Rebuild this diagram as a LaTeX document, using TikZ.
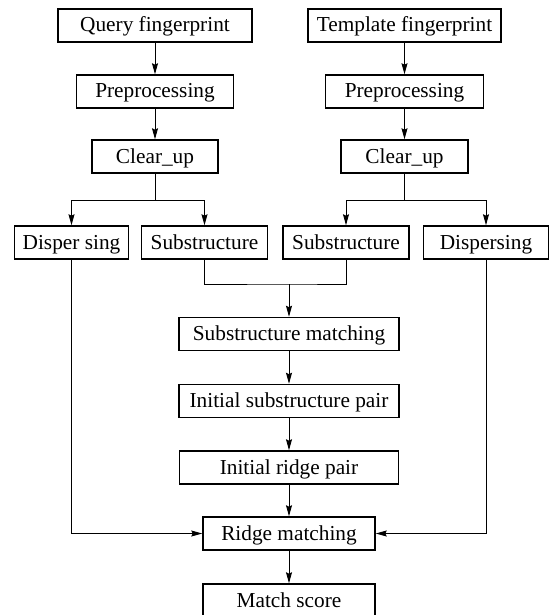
\documentclass[tikz,border=0pt]{standalone}
\usepackage{fontspec}
\setmainfont{Liberation Serif}
\usetikzlibrary{arrows.meta}
\begin{document}
\begin{tikzpicture}[x=1pt,y=-1pt,
  box/.style={draw, line width=1.5pt, minimum height=33pt, inner sep=0pt,
    text height=15pt, text depth=2pt,
    font=\fontsize{21.3}{24}\selectfont},
  link/.style={line width=0.9pt},
  arr/.style={link, -{Stealth[length=11pt,width=6pt,inset=1.5pt]}}]
\useasboundingbox (0,0) rectangle (550,615);

% two input columns
\node[box, minimum width=194pt] (qf) at (155,25.5) {Query fingerprint};
\node[box, minimum width=193pt] (tf) at (404.5,25.5) {Template fingerprint};
\node[box, minimum width=157pt] (pl) at (155,91.5) {Preprocessing};
\node[box, minimum width=158pt] (pr) at (404.5,91.5) {Preprocessing};
\node[box, minimum width=126pt] (cl) at (155,156.5) {Clear\_up};
\node[box, minimum width=127pt] (cr) at (404.5,156.5) {Clear\_up};

% split row
\node[box, minimum width=114pt] (dl) at (71.5,242.5) {Disper sing};
\node[box, minimum width=126pt] (sl) at (204.5,242.5) {Substructure};
\node[box, minimum width=126pt] (sr) at (346,242.5) {Substructure};
\node[box, minimum width=125pt] (dr) at (486,242.5) {Dispersing};

% matching chain
\node[box, minimum width=220pt] (sm) at (289,334) {Substructure matching};
\node[box, minimum width=220pt] (isp) at (289,401) {Initial substructure pair};
\node[box, minimum width=219pt] (irp) at (289,467.5) {Initial ridge pair};
\node[box, minimum width=172pt] (rm) at (289,533.5) {Ridge matching};
\node[box, minimum width=172pt] (ms) at (289,600.5) {Match score};

\coordinate (bl) at (155,200);
\coordinate (br) at (404.5,200);
\coordinate (mg) at (289,284);

\draw[arr] (qf) -- (pl);
\draw[arr] (pl) -- (cl);
\draw[arr] (tf) -- (pr);
\draw[arr] (pr) -- (cr);

\draw[link] (cl) -- (bl);
\draw[arr] (bl) -| (dl);
\draw[arr] (bl) -| (sl);
\draw[link] (cr) -- (br);
\draw[arr] (br) -| (sr);
\draw[arr] (br) -| (dr);

\draw[link] (sl) |- (mg) -| (sr);
\draw[arr] (mg) -- (sm);
\draw[arr] (sm) -- (isp);
\draw[arr] (isp) -- (irp);
\draw[arr] (irp) -- (rm);
\draw[arr] (rm) -- (ms);

\draw[arr] (dl) |- (rm);
\draw[arr] (dr) |- (rm);
\end{tikzpicture}
\end{document}
